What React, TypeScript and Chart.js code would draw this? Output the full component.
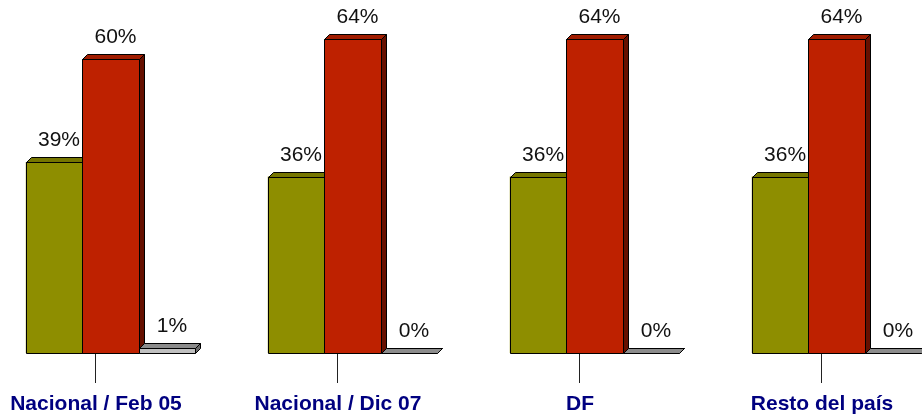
import React, { useEffect, useRef } from "react";
import { Chart, registerables } from "chart.js";

Chart.register(...registerables);

// ---- data ----
const categories = ["Nacional / Feb 05", "Nacional / Dic 07", "DF", "Resto del país"];
const seriesNames = ["Sí", "No", "NS/NC"];
const seriesOlive = [39, 36, 36, 36];
const seriesRed = [60, 64, 64, 64];
const seriesGray = [1, 0, 0, 0];
const yMax = 70;

// ---- layout / style ----
const FONT = "'Liberation Sans', Arial, Helvetica, sans-serif";
const xMin = -0.4566;
const xMax = 3.3533;
const tickShift = -0.06;
const faces = [
  { front: "#8E8E00", top: "#767600", side: "#4A4A00" },
  { front: "#BE2100", top: "#A01C00", side: "#661000" },
  { front: "#C0C0C0", top: "#8C8C8C", side: "#6A6A6A" },
];

const bar3d = {
  id: "bar3d",
  afterDatasetsDraw(chart: any) {
    const ctx = chart.ctx as CanvasRenderingContext2D;
    const dx = 5;
    const dy = 5;
    const poly = (pts: number[][], fill: string) => {
      ctx.beginPath();
      ctx.moveTo(pts[0][0], pts[0][1]);
      for (let i = 1; i < pts.length; i++) ctx.lineTo(pts[i][0], pts[i][1]);
      ctx.closePath();
      ctx.fillStyle = fill;
      ctx.fill();
      ctx.stroke();
    };
    ctx.save();
    ctx.lineWidth = 1;
    ctx.strokeStyle = "#000";
    ctx.lineJoin = "miter";
    chart.data.datasets.forEach((_ds: any, di: number) => {
      const meta = chart.getDatasetMeta(di);
      const f = faces[di];
      meta.data.forEach((el: any) => {
        const p = el.getProps(["x", "y", "base", "width"], true);
        const l = Math.round(p.x - p.width / 2) + 0.5;
        const r = Math.round(p.x + p.width / 2) + 0.5;
        const t = Math.round(p.y) + 0.5;
        const b = Math.round(p.base) + 0.5;
        poly([[r, t], [r + dx, t - dy], [r + dx, b - dy], [r, b]], f.side);
        if (b > t) poly([[l, t], [r, t], [r, b], [l, b]], f.front);
        poly([[l, t], [l + dx, t - dy], [r + dx, t - dy], [r, t]], f.top);
      });
    });
    ctx.font = `21px ${FONT}`;
    ctx.fillStyle = "#111";
    ctx.textAlign = "center";
    ctx.textBaseline = "alphabetic";
    chart.data.datasets.forEach((ds: any, di: number) => {
      const meta = chart.getDatasetMeta(di);
      meta.data.forEach((el: any, i: number) => {
        const p = el.getProps(["x", "y"], true);
        ctx.fillText(`${ds.data[i].y}%`, p.x + 5, p.y - 16);
      });
    });
    ctx.restore();
  },
};

export default function App() {
  const ref = useRef<HTMLCanvasElement>(null);
  useEffect(() => {
    if (!ref.current) return;
    const series = [seriesOlive, seriesRed, seriesGray];
    const chart = new Chart(ref.current, {
      type: "bar",
      data: {
        datasets: series.map((vals, si) => ({
          label: seriesNames[si],
          data: vals.map((v, i) => ({ x: i, y: v })),
          backgroundColor: faces[si].front,
          borderWidth: 0,
        })),
      },
      options: {
        animation: false,
        responsive: true,
        maintainAspectRatio: false,
        layout: { padding: { top: 10, left: 0, right: 0, bottom: 0 } },
        datasets: { bar: { categoryPercentage: 0.7, barPercentage: 1 } },
        plugins: { legend: { display: false }, tooltip: { enabled: false } },
        scales: {
          x: {
            type: "linear",
            min: xMin,
            max: xMax,
            offset: false,
            afterBuildTicks: (scale: any) => {
              scale.ticks = categories.map((_, i) => ({ value: i + tickShift }));
            },
            afterFit: (scale: any) => {
              scale.height = 66;
            },
            grid: { display: true, offset: false, drawOnChartArea: false, drawTicks: true, tickLength: 30, color: "#222", lineWidth: 1 },
            border: { display: false },
            ticks: {
              autoSkip: false,
              maxRotation: 0,
              padding: 9,
              color: "#000080",
              font: { size: 21, weight: "bold", family: FONT },
              callback: (_v: any, i: number) => categories[i],
            },
          },
          y: { display: false, min: 0, max: yMax },
        },
      } as any,
      plugins: [bar3d],
    });
    return () => chart.destroy();
  }, []);
  return (
    <div style={{ position: "absolute", left: 0, top: 0, width: 922, height: 419, background: "#fff" }}>
      <canvas ref={ref} />
    </div>
  );
}
